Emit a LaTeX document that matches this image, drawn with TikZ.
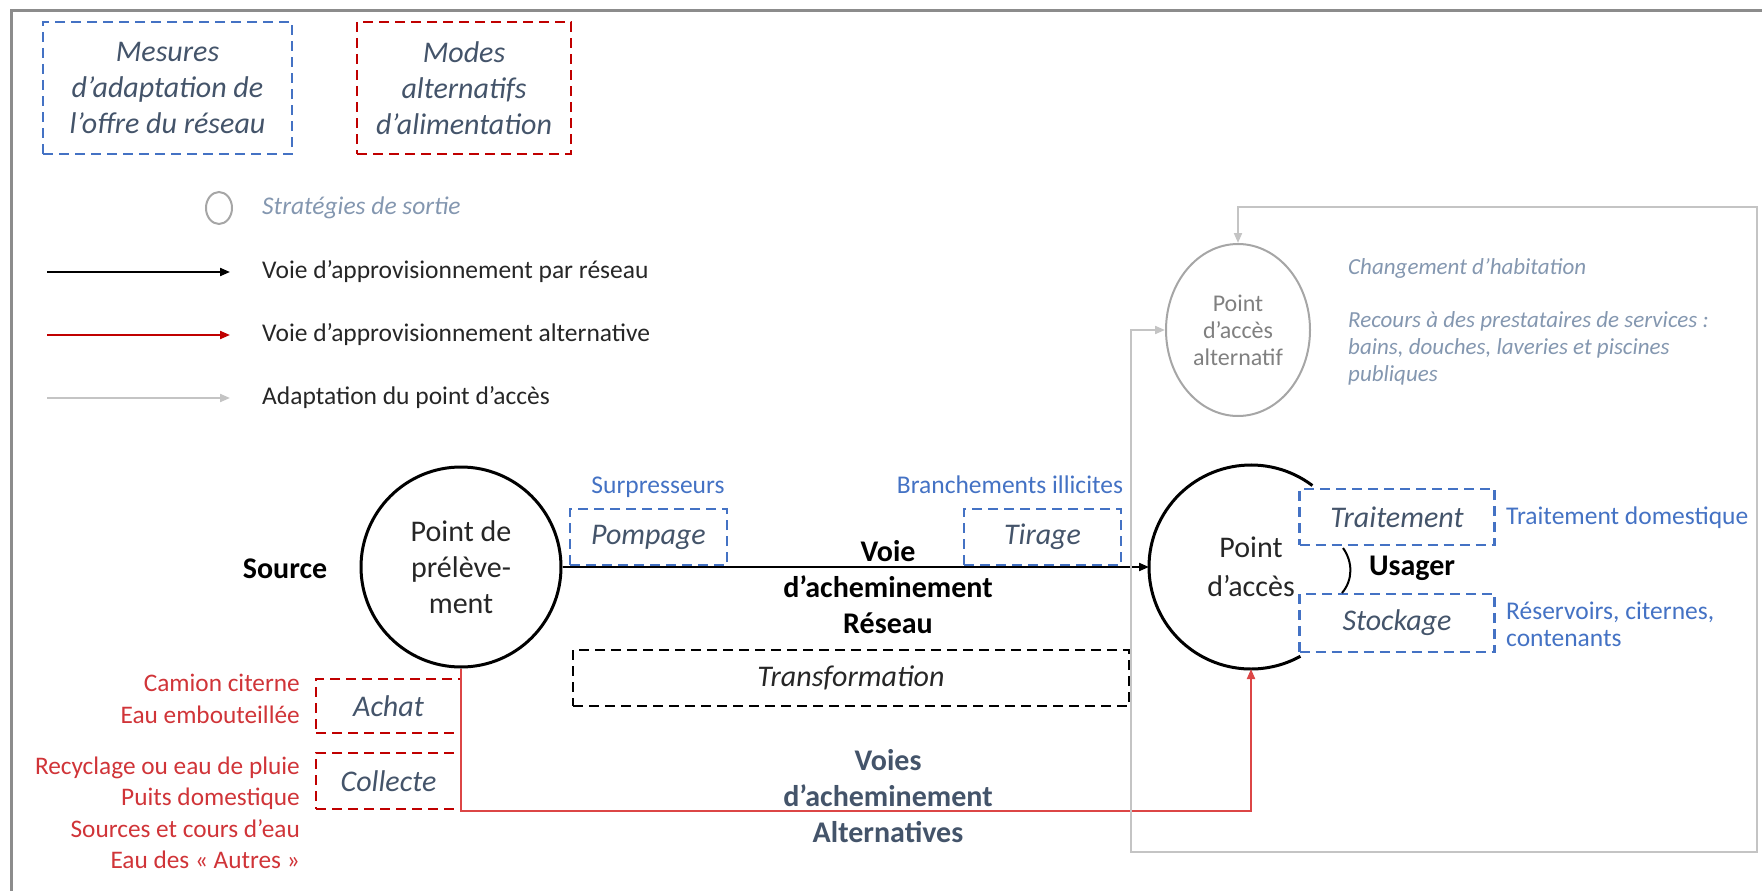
\documentclass[tikz,border=0pt]{standalone}
\usepackage{fontspec}
\setmainfont{Carlito}
\usepackage{tikz}
\usetikzlibrary{arrows.meta, shapes.geometric, positioning, calc}
\usepackage{xcolor}
\definecolor{slate}{HTML}{44546A}
\definecolor{lightslate}{HTML}{8497B0}
\definecolor{boxblue}{HTML}{4472C4}
\definecolor{boxred}{HTML}{C00000}
\definecolor{redtxt}{HTML}{D03438}
\definecolor{redline}{HTML}{DC4646}
\definecolor{altgrey}{HTML}{A6A6A6}
\definecolor{pathgrey}{HTML}{C4C4C4}
\definecolor{frameGrey}{HTML}{8C8C8C}
\definecolor{darktxt}{HTML}{262626}

\begin{document}
\begin{tikzpicture}[x=1pt, y=-1pt,
  dashbox/.style={dash pattern=on 10pt off 6pt, line width=2.5pt, inner sep=0pt,
    align=center, text=slate, font=\fontsize{30}{36}\selectfont\itshape},
  bluebox/.style={dashbox, draw=boxblue},
  redbox/.style={dashbox, draw=boxred},
  blackbox/.style={dashbox, draw=black, text=darktxt},
  bigcircle/.style={circle, draw=black, line width=3pt, inner sep=0pt,
    align=center, text=darktxt, font=\fontsize{30}{36}\selectfont},
  bold/.style={inner sep=0pt, align=center, font=\fontsize{30}{36}\selectfont\bfseries},
  legtext/.style={inner sep=0pt, anchor=west, text=darktxt, font=\fontsize{25.5}{30}\selectfont},
  bluelbl/.style={inner sep=0pt, text=boxblue, font=\fontsize{25.5}{28}\selectfont},
  redlbl/.style={inner sep=0pt, anchor=east, align=right, text=redtxt, font=\fontsize{25.3}{31.5}\selectfont},
  exitlbl/.style={inner sep=0pt, anchor=west, align=left, text=lightslate, font=\fontsize{23}{27}\selectfont\itshape},
  tip/.style={-{Triangle[length=10pt, width=8pt]}},
  netpath/.style={tip, draw=black, line width=2pt},
  altpath/.style={tip, draw=redline, line width=2pt},
  adaptpath/.style={tip, draw=pathgrey, line width=2pt}
]
\useasboundingbox (0,0) rectangle (1762,891);
\draw[frameGrey, line width=3pt] (11,891) -- (11,11) -- (1762,11);

% legend
\node[bluebox, minimum width=249pt, minimum height=132pt] (mesures) at (167.5,88)
  {Mesures\\d’adaptation de\\l’offre du réseau};
\node[redbox, minimum width=214pt, minimum height=132pt] (modes) at (464,88)
  {Modes\\alternatifs\\d’alimentation};
\node[ellipse, draw=altgrey, line width=2pt, minimum width=26pt, minimum height=32pt] (lgcircle) at (219,208) {};
\node[exitlbl, font=\fontsize{25.5}{27}\selectfont\itshape] (lgsortie) at (262,208) {Stratégies de sortie};

\coordinate (lgnetA) at (47,272);   \coordinate (lgnetB) at (230,272);
\coordinate (lgaltA) at (47,335);   \coordinate (lgaltB) at (230,335);
\coordinate (lgadpA) at (47,398);   \coordinate (lgadpB) at (230,398);
\draw[netpath] (lgnetA) -- (lgnetB);
\draw[altpath, draw=boxred] (lgaltA) -- (lgaltB);
\draw[adaptpath] (lgadpA) -- (lgadpB);
\node[legtext] (lgnet) at (262,272) {Voie d’approvisionnement par réseau};
\node[legtext] (lgalt) at (262,335) {Voie d’approvisionnement alternative};
\node[legtext] (lgadp) at (262,398) {Adaptation du point d’accès};

% source side
\node[bold] (source) at (285,569) {Source};
\node[bigcircle, minimum size=200pt] (prel) at (461,567) {Point de\\prélève-\\ment};
\node[redbox, minimum width=145pt, minimum height=54pt] (achat) at (388.5,706) {Achat};
\node[redbox, minimum width=145pt, minimum height=56pt] (collecte) at (388.5,781) {Collecte};
\node[redlbl] (achatlbl) at (300,699) {Camion citerne\\Eau embouteillée};
\node[redlbl] (collectelbl) at (300,813)
  {Recyclage ou eau de pluie\\Puits domestique\\Sources et cours d’eau\\Eau des « Autres »};

% network path
\node[bluebox, minimum width=157pt, minimum height=56pt] (pompage) at (648.5,537) {Pompage};
\node[bluelbl] (surpress) at (658,487) {Surpresseurs};
\node[bluebox, minimum width=157pt, minimum height=56pt] (tirage) at (1042.5,537) {Tirage};
\node[bluelbl] (branch) at (1010,485) {Branchements illicites};
\node[bold] (voiereseau) at (888,587) {Voie\\d’acheminement\\Réseau};
\node[blackbox, minimum width=556pt, minimum height=56pt] (transfo) at (851,678) {Transformation};
\node[bold, text=slate] (voiesalt) at (888,796) {Voies\\d’acheminement\\Alternatives};

% access point
\node[circle, minimum size=204pt, inner sep=0pt, outer sep=0pt, align=center,
  text=darktxt, font=\fontsize{30}{39}\selectfont] (acces) at (1251,567) {Point\\d’accès};
\draw[line width=3pt] (acces.53) arc[start angle=53, end angle=299, radius=102pt];
\node[bluebox, minimum width=195pt, minimum height=56pt] (traitement) at (1397,517) {Traitement};
\node[bluebox, minimum width=195pt, minimum height=58pt] (stockage) at (1397,623) {Stockage};
\node[bold] (usager) at (1412,568) {Usager};
\draw[line width=2pt] (1343,548) .. controls (1353,562) and (1353,580) .. (1342,593);
\node[bluelbl, anchor=west] (traitlbl) at (1506,518) {Traitement domestique};
\node[bluelbl, anchor=west, align=left, font=\fontsize{25.5}{27}\selectfont] (stocklbl) at (1506,624)
  {Réservoirs, citernes,\\contenants};

% alternative access point
\node[ellipse, draw=altgrey, line width=2pt, minimum width=144pt, minimum height=172pt,
  inner sep=0pt, align=center, text=gray, font=\fontsize{24}{27}\selectfont] (alt) at (1238,330)
  {Point\\d’accès\\alternatif};
\node[exitlbl] (habitation) at (1348,268) {Changement d’habitation};
\node[exitlbl] (recours) at (1348,348)
  {Recours à des prestataires de services :\\bains, douches, laveries et piscines\\publiques};

% connectors
\draw[netpath] (prel.east) -- (acces.west);
\coordinate (redbend) at (461,811);
\draw[altpath] (prel.south) -- (redbend) -| (acces.south);
\coordinate (gsplit) at (1131,567);
\coordinate (gbl) at (1131,852);
\coordinate (gbr) at (1757,852);
\coordinate (gtr) at (1757,207);
\draw[adaptpath] (gsplit) |- (alt.west);
\draw[adaptpath] (gsplit) -- (gbl) -- (gbr) -- (gtr) -| (alt.north);
\end{tikzpicture}
\end{document}
